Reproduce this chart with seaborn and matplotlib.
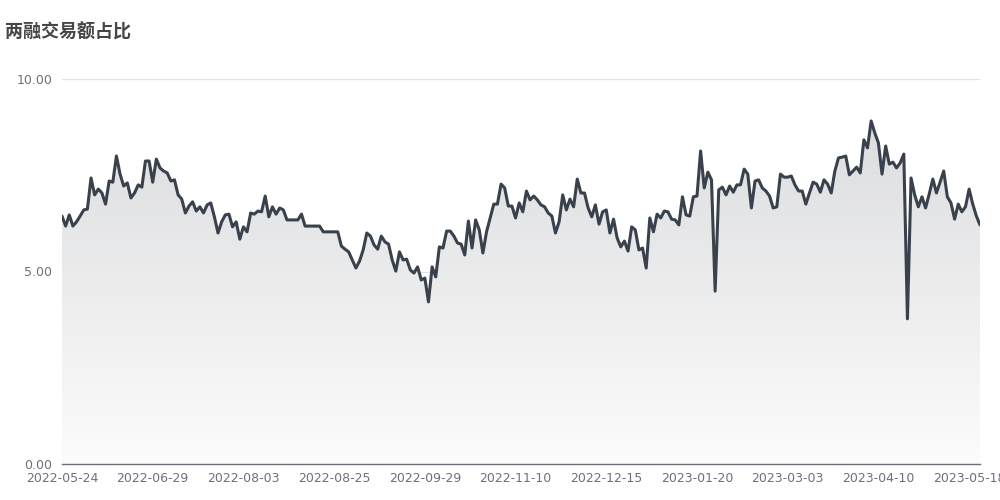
import numpy as np
import pandas as pd
import seaborn as sns
import matplotlib.pyplot as plt
from matplotlib.colors import LinearSegmentedColormap

# Dane (udział transakcji margin w obrocie, %)
values = [
    6.44, 6.18, 6.47, 6.18, 6.29, 6.44, 6.60, 6.62, 7.43, 6.99,
    7.14, 7.04, 6.75, 7.35, 7.32, 8.00, 7.53, 7.22, 7.30, 6.91,
    7.04, 7.25, 7.19, 7.87, 7.87, 7.32, 7.92, 7.69, 7.61, 7.56,
    7.35, 7.38, 6.99, 6.88, 6.52, 6.70, 6.81, 6.57, 6.68, 6.52,
    6.73, 6.78, 6.42, 6.00, 6.29, 6.47, 6.49, 6.16, 6.29, 5.84,
    6.16, 6.03, 6.52, 6.49, 6.57, 6.55, 6.96, 6.42, 6.68, 6.49,
    6.65, 6.60, 6.34, 6.34, 6.34, 6.34, 6.49, 6.18, 6.18, 6.18,
    6.18, 6.18, 6.03, 6.03, 6.03, 6.03, 6.03, 5.66, 5.58, 5.51,
    5.30, 5.09, 5.27, 5.56, 6.00, 5.92, 5.69, 5.58, 5.92, 5.77,
    5.71, 5.30, 5.01, 5.51, 5.30, 5.32, 5.04, 4.96, 5.12, 4.78,
    4.83, 4.21, 5.12, 4.86, 5.64, 5.61, 6.05, 6.05, 5.92, 5.74,
    5.71, 5.43, 6.31, 5.61, 6.34, 6.08, 5.48, 6.03, 6.39, 6.75,
    6.75, 7.27, 7.17, 6.70, 6.70, 6.39, 6.78, 6.55, 7.09, 6.86,
    6.96, 6.86, 6.73, 6.68, 6.52, 6.44, 6.00, 6.29, 6.99, 6.60,
    6.88, 6.68, 7.40, 7.04, 7.04, 6.65, 6.42, 6.73, 6.23, 6.55,
    6.60, 6.00, 6.36, 5.87, 5.64, 5.79, 5.53, 6.16, 6.08, 5.56,
    5.61, 5.09, 6.39, 6.03, 6.49, 6.39, 6.57, 6.55, 6.36, 6.34,
    6.21, 6.94, 6.47, 6.44, 6.94, 6.96, 8.13, 7.17, 7.58, 7.38,
    4.49, 7.12, 7.19, 6.99, 7.22, 7.06, 7.25, 7.25, 7.66, 7.53,
    6.65, 7.35, 7.38, 7.17, 7.09, 6.96, 6.65, 6.68, 7.53, 7.45,
    7.45, 7.48, 7.25, 7.09, 7.09, 6.75, 7.04, 7.32, 7.27, 7.06,
    7.38, 7.27, 7.04, 7.61, 7.95, 7.97, 8.00, 7.51, 7.61, 7.71,
    7.56, 8.42, 8.21, 8.91, 8.60, 8.34, 7.53, 8.26, 7.79, 7.84,
    7.69, 7.82, 8.05, 3.77, 7.43, 6.99, 6.68, 6.94, 6.65, 7.01,
    7.40, 7.04, 7.32, 7.61, 6.94, 6.78, 6.36, 6.75, 6.55, 6.68,
    7.14, 6.75, 6.44, 6.21,
]
tick_labels = [
    "2022-05-24", "2022-06-29", "2022-08-03", "2022-08-25", "2022-09-29",
    "2022-11-10", "2022-12-15", "2023-01-20", "2023-03-03", "2023-04-10",
    "2023-05-18",
]
tick_step = 25

df = pd.DataFrame({"idx": np.arange(len(values)), "ratio": values})

sns.set_theme(style="white")
plt.rcParams["font.family"] = ["DejaVu Sans", "Noto Sans CJK SC"]

fig = plt.figure(figsize=(10, 5), dpi=100)
ax = fig.add_axes([0.062, 0.072, 0.918, 0.77])

n = len(values)
ymax = 10

# gradient pod linią
fill = ax.fill_between(df["idx"], df["ratio"], 0, color="none", lw=0)
cmap = LinearSegmentedColormap.from_list("g", ["#fcfcfc", "#dcdddf"])
grad = np.linspace(0, 1, 256).reshape(-1, 1)
img = ax.imshow(grad, extent=[0, n - 1, 0, 9], origin="lower", aspect="auto",
                cmap=cmap, zorder=1)
img.set_clip_path(fill.get_paths()[0], transform=ax.transData)

sns.lineplot(data=df, x="idx", y="ratio", ax=ax, color="#39424c", lw=2.2, zorder=3)

ax.set_xlim(0, n - 1)
ax.set_ylim(0, ymax)
ax.set_yticks([0, 5, 10])
ax.set_yticklabels(["0.00", "5.00", "10.00"])
ax.set_xticks(np.arange(0, n, tick_step)[:len(tick_labels)])
ax.set_xticklabels(tick_labels)
ax.tick_params(axis="both", length=0, labelsize=9, colors="#6e7079")
ax.tick_params(axis="y", pad=7)
ax.tick_params(axis="x", pad=6)
ax.grid(axis="y", color="#dde3ee", lw=0.9)
ax.set_axisbelow(True)
for s in ["top", "right", "left"]:
    ax.spines[s].set_visible(False)
ax.spines["bottom"].set_color("#6e7079")
ax.spines["bottom"].set_linewidth(1)
ax.spines["bottom"].set_zorder(4)
ax.set_xlabel("")
ax.set_ylabel("")

fig.text(0.005, 0.936, "两融交易额占比", fontsize=13, fontweight="bold",
         color="#464646", va="center", ha="left")

fig.savefig("out.png", dpi=100)
